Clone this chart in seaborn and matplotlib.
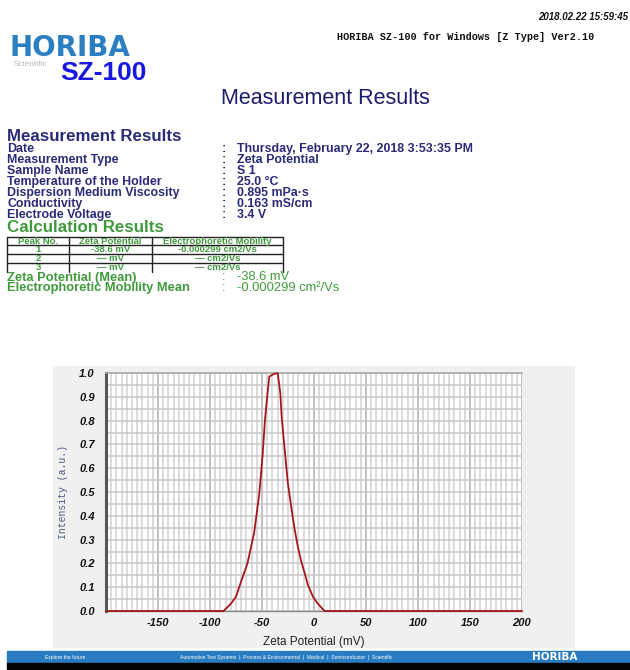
import matplotlib
matplotlib.use("Agg")
import matplotlib.pyplot as plt
import seaborn as sns
import pandas as pd
from matplotlib.patches import Rectangle
from matplotlib.lines import Line2D
from matplotlib.ticker import MultipleLocator, FixedLocator

# ---------------- data ----------------
zeta_mv = [-200, -87, -80, -75, -70.4, -64, -57.5, -52.7, -49.4, -47.2, -45, -43,
           -39, -35, -34, -32.4, -31, -28, -25.2, -22, -18.9, -15.5, -12.4, -9,
           -5.9, -1, 3.8, 7, 10, 200]
intensity = [0.0, 0.0, 0.03, 0.06, 0.12, 0.20, 0.33, 0.49, 0.655, 0.80, 0.90, 0.985,
             0.995, 1.0, 0.97, 0.915, 0.81, 0.67, 0.54, 0.44, 0.35, 0.27, 0.21, 0.16,
             0.11, 0.06, 0.03, 0.015, 0.0, 0.0]
x_ticks = [-150, -100, -50, 0, 50, 100, 150, 200]
y_ticks = [0.0, 0.1, 0.2, 0.3, 0.4, 0.5, 0.6, 0.7, 0.8, 0.9, 1.0]

info_labels = ["Date", "Measurement Type", "Sample Name", "Temperature of the Holder",
               "Dispersion Medium Viscosity", "Conductivity", "Electrode Voltage"]
info_values = ["Thursday, February 22, 2018 3:53:35 PM", "Zeta Potential", "S 1",
               "25.0 °C", "0.895 mPa·s", "0.163 mS/cm", "3.4 V"]
table_header = ["Peak No.", "Zeta Potential", "Electrophoretic Mobility"]
table_rows = [["1", "-38.6 mV", "-0.000299 cm2/Vs"],
              ["2", "— mV", "— cm2/Vs"],
              ["3", "— mV", "— cm2/Vs"]]
mean_labels = ["Zeta Potential (Mean)", "Electrophoretic Mobility Mean"]
mean_values = ["-38.6 mV", "-0.000299 cm²/Vs"]

# ---------------- style ----------------
sns.set_style("white")
plt.rcParams["font.family"] = ["Liberation Sans", "DejaVu Sans"]

W, H = 630, 670
fig = plt.figure(figsize=(W / 100, H / 100), dpi=100)
fig.patch.set_facecolor("white")


def P(x, y):
    return x / W, 1 - y / H


def T(x, y, s, **kw):
    kw.setdefault("va", "baseline")
    return fig.text(*P(x, y), s, **kw)


NAVY = "#2a2a78"
GREEN = "#3f9a3c"
LOGO = "#2a7ec2"

# ---------------- header ----------------
T(628, 20, "2018.02.22 15:59:45", ha="right", fontsize=7, fontweight="bold",
  fontstyle="italic", color="#111111")
T(594, 40, "HORIBA SZ-100 for Windows [Z Type] Ver2.10", ha="right", fontsize=7.3,
  fontweight="bold", family=["Liberation Mono", "DejaVu Sans Mono"], color="#111111")
T(9, 56, "HORIBA", ha="left", fontsize=20, fontweight="heavy",
  family=["DejaVu Sans"], color=LOGO)
T(14, 66, "Scientific", ha="left", fontsize=6, color="#b8b8b8")
T(60, 80, "SZ-100", ha="left", fontsize=19, fontweight="bold", color="#1818e0")
T(325, 104, "Measurement Results", ha="center", fontsize=15.5, color="#1c1c6c")

# ---------------- measurement info ----------------
T(7, 140.7, "Measurement Results", ha="left", fontsize=12.2, fontweight="bold", color=NAVY)
row_y0 = 152
for i, (lab, val) in enumerate(zip(info_labels, info_values)):
    y = row_y0 + i * 11.05
    T(7, y, lab, ha="left", fontsize=8.9, fontweight="bold", color=NAVY)
    T(222, y, ":", ha="left", fontsize=8.9, fontweight="bold", color=NAVY)
    T(237, y, val, ha="left", fontsize=8.9, fontweight="bold", color=NAVY)

T(7, 232, "Calculation Results", ha="left", fontsize=12.2, fontweight="bold", color=GREEN)

# table
tx = [7, 69, 152, 283]
ty = [236.7, 245, 254, 262.7, 271.7]
for x in tx:
    fig.add_artist(Line2D([x / W, x / W], [1 - ty[0] / H, 1 - ty[-1] / H],
                          color="#222222", lw=1.0))
for y in ty[:-1]:
    fig.add_artist(Line2D([tx[0] / W, tx[-1] / W], [1 - y / H, 1 - y / H],
                          color="#222222", lw=1.0))
centers = [(tx[i] + tx[i + 1]) / 2 for i in range(3)]
for j, h in enumerate(table_header):
    T(centers[j], 243.6, h, ha="center", fontsize=6.8, fontweight="bold", color=GREEN)
for r, row in enumerate(table_rows):
    for j, cell in enumerate(row):
        T(centers[j], 252.4 + r * 8.8, cell, ha="center", fontsize=6.8,
          fontweight="bold", color=GREEN)

for i, (lab, val) in enumerate(zip(mean_labels, mean_values)):
    y = 280.5 + i * 10.7
    T(7, y, lab, ha="left", fontsize=9.3, fontweight="bold", color=GREEN)
    T(222, y, ":", ha="left", fontsize=9.3, color=GREEN)
    T(237, y, val, ha="left", fontsize=9.3, color=GREEN)

# ---------------- chart panel ----------------
fig.patches.append(Rectangle(P(53, 647), (574 - 53) / W, (647 - 366) / H,
                             transform=fig.transFigure, color="#f0f0f0", zorder=-2))

ax = fig.add_axes([106 / W, 1 - 611 / H, (522 - 106) / W, (611 - 373) / H])
ax.set_zorder(5)
ax.set_facecolor("white")
df = pd.DataFrame({"Zeta Potential (mV)": zeta_mv, "Intensity": intensity})
sns.lineplot(data=df, x="Zeta Potential (mV)", y="Intensity", ax=ax,
             color="#a5161a", lw=1.3, clip_on=False, zorder=5)
ax.set_xlim(-200, 200)
ax.set_ylim(0, 1.0)

ax.xaxis.set_major_locator(FixedLocator(x_ticks))
ax.xaxis.set_minor_locator(MultipleLocator(5))
ax.yaxis.set_major_locator(FixedLocator(y_ticks))
ax.yaxis.set_minor_locator(MultipleLocator(0.05))
ax.set_xticklabels([f"{t:d}" for t in x_ticks])
ax.set_yticklabels([f"{t:.1f}" for t in y_ticks])

ax.grid(True, which="minor", axis="x", color="#d6d6d6", lw=1.2)
ax.grid(True, which="major", axis="x", color="#bcbcbc", lw=1.3)
ax.grid(True, which="both", axis="y", color="#c8c8c8", lw=1.1)
ax.set_axisbelow(True)

for lab in ax.get_xticklabels() + ax.get_yticklabels():
    lab.set_fontweight("bold")
    lab.set_fontstyle("italic")
    lab.set_fontsize(8)
    lab.set_color("#111111")

ax.tick_params(axis="x", which="major", direction="inout", length=7, width=1,
               color="#333333", pad=1.5)
ax.tick_params(axis="x", which="minor", direction="in", length=3, width=0.9,
               color="#333333")
ax.tick_params(axis="y", which="major", direction="out", length=7, width=1,
               color="#333333", pad=1)
ax.tick_params(axis="y", which="minor", direction="out", length=4, width=1,
               color="#333333")

ax.spines["left"].set_color("#555555")
ax.spines["left"].set_linewidth(2.2)
ax.spines["bottom"].set_color("#888888")
ax.spines["bottom"].set_linewidth(1)
ax.spines["top"].set_color("#a8a8a8")
ax.spines["top"].set_linewidth(1.2)
ax.spines["right"].set_visible(False)

ax.set_xlabel("Zeta Potential (mV)", fontsize=8.5, color="#222222", labelpad=6)
ax.set_ylabel("Intensity (a.u.)", fontsize=7, color="#4a5a7a",
              family=["Liberation Mono", "DejaVu Sans Mono"], labelpad=8)

# ---------------- footer ----------------
fig.patches.append(Rectangle(P(7, 663), (W - 7) / W, 12 / H,
                             transform=fig.transFigure, color="#2a7cc2", zorder=-2))
fig.patches.append(Rectangle(P(7, 669), (W - 7) / W, 6 / H,
                             transform=fig.transFigure, color="#050505", zorder=-2))
T(45, 659, "Explore the future", ha="left", fontsize=3.6, color="white")
T(180, 659, "Automotive Test Systems  |  Process & Environmental  |  Medical  |  Semiconductor  |  Scientific",
  ha="left", fontsize=3.6, color="white")
T(555, 660, "HORIBA", ha="center", fontsize=7.5, fontweight="bold",
  family=["DejaVu Sans"], color="white")

fig.savefig("out.png", dpi=100)
